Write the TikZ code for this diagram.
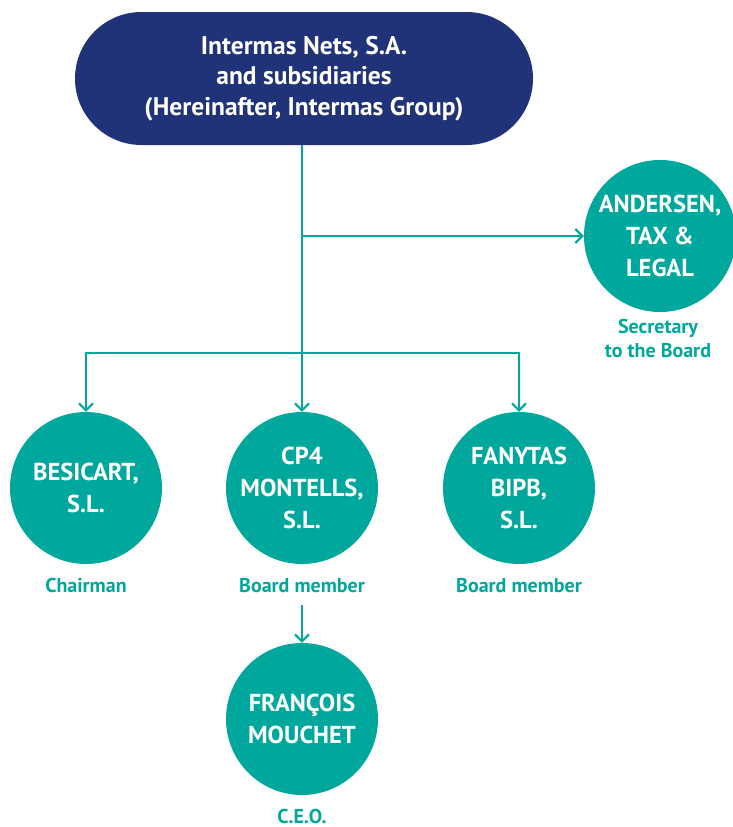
\documentclass[tikz,border=0pt]{standalone}
\usepackage{fontspec}
\setmainfont{PT Sans}
\usetikzlibrary{arrows.meta}
\definecolor{navy}{HTML}{203278}
\definecolor{teal}{HTML}{00A79D}
\tikzset{
  circ/.style={circle, fill=teal, minimum size=152pt, inner sep=0pt, text=white, align=center, font=\fontsize{24.5}{32}\selectfont\bfseries},
  lab/.style={text=teal, align=center, anchor=base, font=\fontsize{20}{24}\selectfont\bfseries},
  conn/.style={draw=teal, line width=2pt},
  arr/.style={conn, -{Straight Barb[length=7pt, width=14pt, line width=2pt]}},
}
\begin{document}
\begin{tikzpicture}[x=1pt, y=-1pt]
\useasboundingbox (0,0) rectangle (733,827);
\node[fill=navy, rounded corners=66.5pt, minimum width=458pt, minimum height=133pt, inner sep=0pt, text=white, align=center, font=\fontsize{25.5}{30.5}\selectfont\bfseries] (top) at (304,78.5) {Intermas Nets, S.A.\\and subsidiaries\\(Hereinafter, Intermas Group)};
\node[circ] (andersen) at (660,236) {ANDERSEN,\\TAX \&\\LEGAL};
\node[lab] (andlab) at (658,357) {Secretary\\to the Board};
\node[circ] (besicart) at (86,488) {BESICART,\\S.L.};
\node[circ] (cp4) at (302,488) {CP4\\MONTELLS,\\S.L.};
\node[circ] (fanytas) at (519,488) {FANYTAS\\BIPB,\\S.L.};
\node[lab] (beslab) at (86,592) {Chairman};
\node[lab] (cp4lab) at (302,592) {Board member};
\node[lab] (fanlab) at (519,592) {Board member};
\node[circ] (francois) at (302,719) {FRANÇOIS\\MOUCHET};
\node[lab] (ceolab) at (302,823) {C.E.O.};
\coordinate (j1) at (302,236);
\coordinate (j2) at (302,353);
\coordinate (s4) at (302,605);
\draw[arr] (top.south -| cp4.north) -- (cp4.north);
\draw[arr] (j1) -- (andersen.west);
\draw[arr] (j2) -| (besicart.north);
\draw[arr] (j2) -| (fanytas.north);
\draw[arr] (s4) -- (francois.north);
\end{tikzpicture}
\end{document}
